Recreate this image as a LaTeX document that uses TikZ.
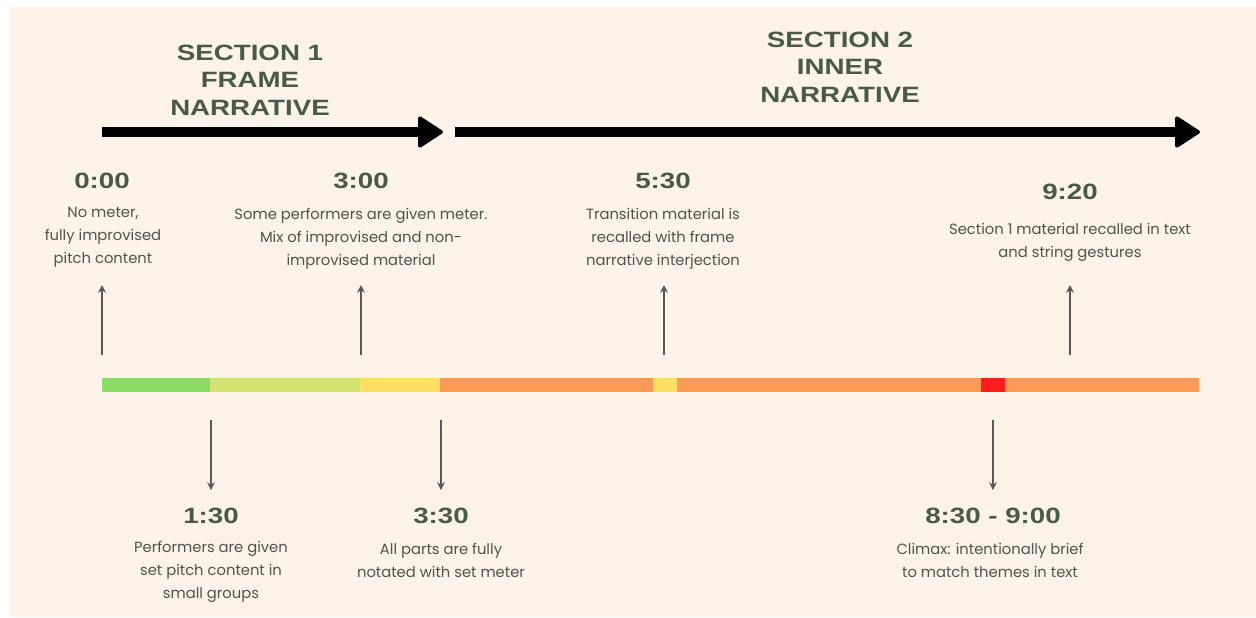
\documentclass[tikz,border=0pt]{standalone}
\usepackage{fontspec}
\setmainfont{Poppins}
\newfontfamily\headfont{Liberation Sans Bold}[FakeStretch=1.25]
\usetikzlibrary{arrows.meta}

\definecolor{cream}{HTML}{FDF3E8}
\definecolor{ink}{HTML}{4A5A48}
\definecolor{notegray}{HTML}{4E554C}
\definecolor{sgreen}{HTML}{8ADC64}
\definecolor{lgreen}{HTML}{D2E46E}
\definecolor{syellow}{HTML}{FFDF63}
\definecolor{sorange}{HTML}{FF9A55}
\definecolor{sred}{HTML}{FF1E1E}

\tikzset{
  heading/.style={font=\headfont\fontsize{6.3}{7.8}\selectfont, text=ink, align=center},
  stamp/.style={font=\headfont\fontsize{6.3}{7.5}\selectfont, text=ink, inner sep=0pt},
  note/.style={font=\fontsize{4.2}{6.5}\selectfont, text=notegray, align=center, inner sep=0pt},
  bigarrow/.style={line width=2.8pt, -{Triangle[round, length=7.5pt, width=9.5pt, line width=1pt]}},
  tick/.style={line width=0.45pt, draw=black!65, -{Stealth[length=2.2pt, width=2.2pt]}},
}

\begin{document}
\begin{tikzpicture}[x=0.01cm, y=-0.01cm]
   \useasboundingbox (0,0) rectangle (1256,617);
   \fill[white] (0,0) rectangle (1256,617);
   \fill[cream] (10,7) rectangle (1256,617);

   % section headings and their arrows
   \node[heading] (sec1) at (250,80) {SECTION 1\\FRAME\\NARRATIVE};
   \node[heading] (sec2) at (840,67) {SECTION 2\\INNER\\NARRATIVE};
   \coordinate (s1a) at (102,132);
   \coordinate (s1b) at (443,132);
   \coordinate (s2a) at (455,132);
   \coordinate (s2b) at (1200,132);
   \draw[bigarrow] (s1a) -- (s1b);
   \draw[bigarrow] (s2a) -- (s2b);

   % timeline bar
   \fill[sgreen]  (102,378) rectangle (210,392);
   \fill[lgreen]  (210,378) rectangle (360,392);
   \fill[syellow] (360,378) rectangle (440,392);
   \fill[sorange] (440,378) rectangle (1199,392);
   \fill[syellow] (653,378) rectangle (677,392);
   \fill[sred]    (981,378) rectangle (1005,392);

   % events above the bar
   \node[stamp] (t000) at (102,181) {0:00};
   \node[note]  (n000) at (103,237) {No meter,\\fully improvised\\pitch content};
   \node[stamp] (t300) at (361,181) {3:00};
   \node[note]  (n300) at (361,239) {Some performers are given meter.\\Mix of improvised and non-\\improvised material};
   \node[stamp] (t530) at (663,181) {5:30};
   \node[note]  (n530) at (663,239) {Transition material is\\recalled with frame\\narrative interjection};
   \node[stamp] (t920) at (1070,192) {9:20};
   \node[note]  (n920) at (1070,242) {Section 1 material recalled in text\\and string gestures};

   \coordinate (u000a) at (102,355);  \coordinate (u000b) at (102,285);
   \coordinate (u300a) at (361,355);  \coordinate (u300b) at (361,285);
   \coordinate (u530a) at (664,355);  \coordinate (u530b) at (664,285);
   \coordinate (u920a) at (1070,355); \coordinate (u920b) at (1070,285);
   \draw[tick] (u000a) -- (u000b);
   \draw[tick] (u300a) -- (u300b);
   \draw[tick] (u530a) -- (u530b);
   \draw[tick] (u920a) -- (u920b);

   % events below the bar
   \coordinate (d130a) at (211,420);  \coordinate (d130b) at (211,490);
   \coordinate (d330a) at (441,420);  \coordinate (d330b) at (441,490);
   \coordinate (d830a) at (993,420);  \coordinate (d830b) at (993,490);
   \draw[tick] (d130a) -- (d130b);
   \draw[tick] (d330a) -- (d330b);
   \draw[tick] (d830a) -- (d830b);

   \node[stamp] (t130) at (211,516) {1:30};
   \node[note]  (n130) at (211,572) {Performers are given\\set pitch content in\\small groups};
   \node[stamp] (t330) at (441,516) {3:30};
   \node[note]  (n330) at (441,560) {All parts are fully\\notated with set meter};
   \node[stamp] (t830) at (993,516) {8:30 - 9:00};
   \node[note]  (n830) at (990,560) {Climax: intentionally brief\\to match themes in text};
\end{tikzpicture}
\end{document}
